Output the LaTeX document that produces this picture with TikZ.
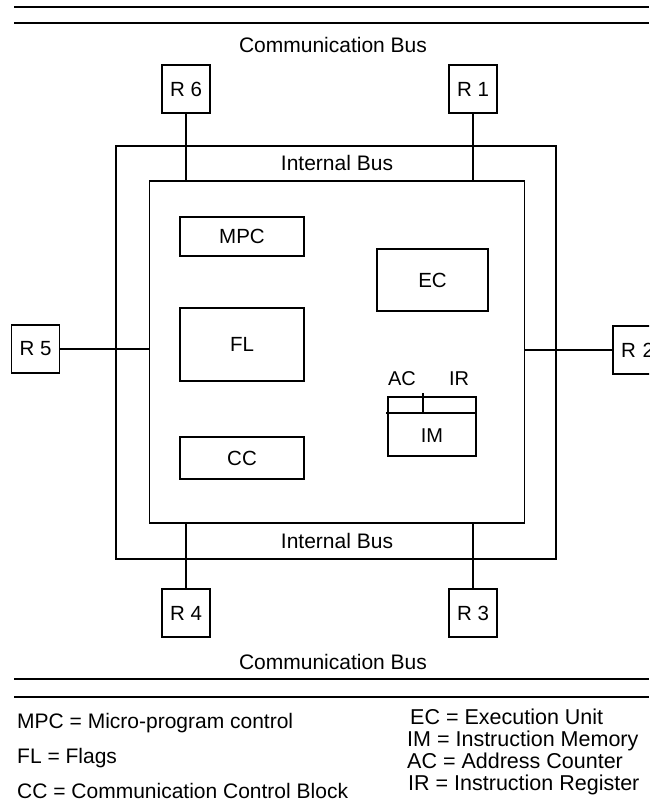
\documentclass[tikz,border=0pt]{standalone}
\usepackage{fontspec}
\setmainfont{Liberation Sans}
\begin{document}
\begin{tikzpicture}[x=1pt,y=1pt,
  box/.style={draw,line width=1.5pt,inner sep=0pt,font=\fontsize{20.5}{24}\selectfont},
  rbox/.style={box,minimum width=48pt,minimum height=48pt},
  frame/.style={draw,line width=1.5pt,inner sep=0pt},
  wire/.style={line width=1.5pt},
  bus/.style={line width=2.5pt},
  lbl/.style={inner sep=0pt,font=\fontsize{20}{24}\selectfont},
  buslbl/.style={inner sep=0pt,font=\fontsize{21}{24}\selectfont},
  legl/.style={inner sep=0pt,anchor=base west,font=\fontsize{21}{24}\selectfont},
  legr/.style={inner sep=0pt,anchor=base west,font=\fontsize{21.5}{24}\selectfont}]
\useasboundingbox (0,0) rectangle (649,-808);
\clip (0,0) rectangle (649,-808);
% communication bus lines
\coordinate (tl1) at (14,-7);   \coordinate (tr1) at (649,-7);
\coordinate (tl2) at (14,-23);  \coordinate (tr2) at (649,-23);
\coordinate (bl1) at (14,-679); \coordinate (br1) at (649,-679);
\coordinate (bl2) at (14,-697); \coordinate (br2) at (649,-697);
\draw[bus] (tl1) -- (tr1);
\draw[bus] (tl2) -- (tr2);
\draw[bus] (bl1) -- (br1);
\draw[bus] (bl2) -- (br2);
\node[buslbl] (cbt) at (333,-45) {Communication Bus};
\node[buslbl] (cbb) at (333,-662) {Communication Bus};
% frames
\node[frame,minimum width=440pt,minimum height=413pt] (outer) at (336,-352.5) {};
\node[frame,minimum width=375pt,minimum height=342pt] (inner) at (337,-352) {};
\node[buslbl] (ibt) at (337,-163) {Internal Bus};
\node[buslbl] (ibb) at (337,-541) {Internal Bus};
% routers
\node[rbox] (r6) at (186,-89) {R 6};
\node[rbox] (r1) at (473,-89) {R 1};
\node[rbox] (r5) at (35.5,-349) {R 5};
\node[rbox,text width=40pt,align=left] (r2) at (637,-350) {\hspace*{4pt}R 2};
\node[rbox] (r4) at (186,-613) {R 4};
\node[rbox] (r3) at (473,-613) {R 3};
\draw[wire] (r6.south) -- (r6.south |- inner.north);
\draw[wire] (r1.south) -- (r1.south |- inner.north);
\draw[wire] (r4.north) -- (r4.north |- inner.south);
\draw[wire] (r3.north) -- (r3.north |- inner.south);
\draw[wire] (r5.east) -- (r5.east -| inner.west);
\draw[wire] (r2.west) -- (r2.west -| inner.east);
% internal blocks
\node[box,minimum width=124pt,minimum height=39pt] (mpc) at (242,-236.5) {MPC};
\node[box,minimum width=124pt,minimum height=73pt] (fl) at (242,-344.5) {FL};
\node[box,minimum width=124pt,minimum height=42pt] (cc) at (242,-458) {CC};
\node[box,minimum width=111pt,minimum height=62pt] (ec) at (432.5,-280) {EC};
% IM block
\node[box,minimum width=88pt,minimum height=59pt] (im) at (432,-426.5) {};
\node[lbl] (imt) at (432,-436) {IM};
\coordinate (midl) at (386,-413);
\coordinate (midr) at (476,-413);
\draw[wire] (midl) -- (midr);
\coordinate (vt) at (423,-393);
\coordinate (vb) at (423,-413);
\draw[wire] (vt) -- (vb);
\node[lbl] (ac) at (402,-379) {AC};
\node[lbl] (ir) at (459,-379) {IR};
% legend
\node[legl] (l1) at (17,-728) {MPC = Micro-program control};
\node[legl] (l2) at (17,-763) {FL = Flags};
\node[legl] (l3) at (17,-798) {CC = Communication Control Block};
\node[legr] (l4) at (410,-724) {EC = Execution Unit};
\node[legr] (l5) at (407,-746) {IM = Instruction Memory};
\node[legr] (l6) at (407,-768) {AC = Address Counter};
\node[legr] (l7) at (408,-790) {IR = Instruction Register};
\end{tikzpicture}
\end{document}
